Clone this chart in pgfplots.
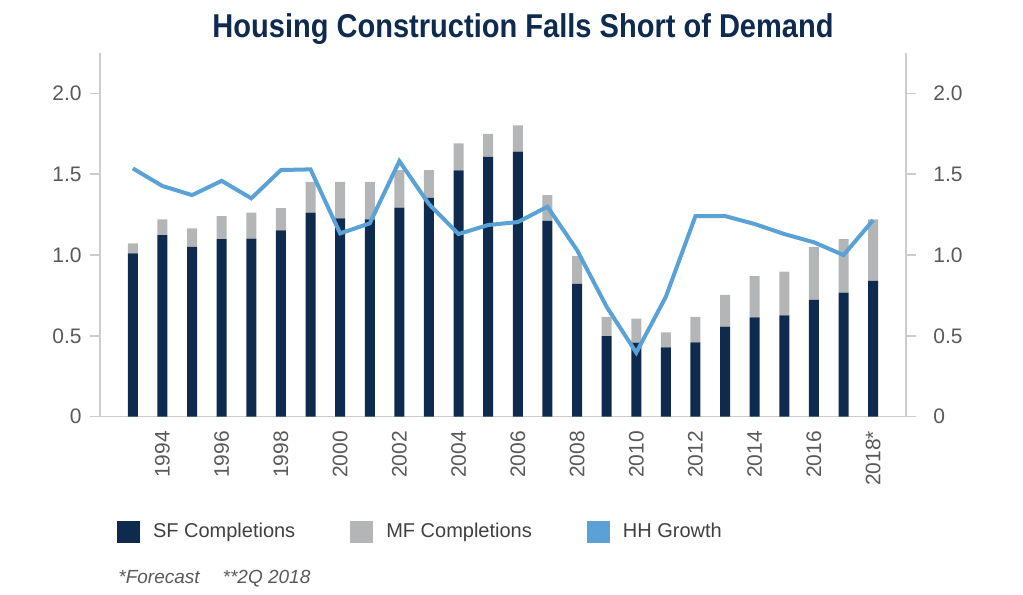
\documentclass[border=0pt]{standalone}
\usepackage{pgfplots}
\pgfplotsset{compat=1.18}
\usepackage{fontspec}
\setmainfont{Liberation Sans}
\newfontfamily\titlefont{Liberation Sans}[FakeStretch=0.88]
\definecolor{sfnavy}{HTML}{0F2A4F}
\definecolor{mfgray}{HTML}{B3B5B7}
\definecolor{hhblue}{HTML}{5AA2D6}
\definecolor{axgray}{HTML}{CCCCCC}
\definecolor{txtgray}{HTML}{595959}
\pgfplotsset{
  sqlegend/.style={legend image code/.code={\fill[##1] (0bp,-5.5bp) rectangle (11.5bp,5.5bp);}},
  common/.style={
    at={(0,0)}, anchor=south west,
    scale only axis, width=403bp, height=181.85bp,
    xmin=1991.89, xmax=2019.11, ymin=0, ymax=2.25,
    axis line style={axgray, line width=0.75bp},
    ytick={0,0.5,1,1.5,2}, yticklabels={0,0.5,1.0,1.5,2.0},
    tick align=outside, major tick length=5bp,
    y tick style={axgray, line width=0.75bp},
    tick label style={font=\fontsize{10.5bp}{12bp}\selectfont, text=txtgray},
  }
}
\begin{document}
\begin{tikzpicture}
\useasboundingbox (-50bp,-89.15bp) rectangle (461.5bp,208.35bp);
\begin{axis}[common,
  ybar stacked, bar width=5bp,
  axis x line*=bottom, axis y line*=left,
  xtick={1994,1996,...,2018},
  xticklabels={1994,1996,1998,2000,2002,2004,2006,2008,2010,2012,2014,2016,2018*},
  x tick style={draw=none},
  xticklabel style={yshift=-2bp, rotate=90, anchor=east, inner sep=0pt},
  yticklabel style={xshift=-4bp, anchor=east, inner sep=0pt},
  legend style={at={(0,0)}, anchor=north west, xshift=8.5bp, yshift=-52.15bp,
    draw=none, fill=none, inner sep=0pt, outer sep=0pt,
    font=\fontsize{10bp}{12bp}\selectfont, text=black!75,
    nodes={inner sep=0pt},
    /tikz/every odd column/.append style={column sep=6.5bp},
    /tikz/every even column/.append style={column sep=27.5bp}},
  legend columns=3, legend cell align=left,
]
\addplot[fill=sfnavy, draw=none, sqlegend] coordinates {
(1993,1.011) (1994,1.124) (1995,1.051) (1996,1.099) (1997,1.101) (1998,1.153)
(1999,1.262) (2000,1.227) (2001,1.221) (2002,1.293) (2003,1.354) (2004,1.524)
(2005,1.608) (2006,1.640) (2007,1.212) (2008,0.821) (2009,0.499) (2010,0.458)
(2011,0.429) (2012,0.460) (2013,0.557) (2014,0.615) (2015,0.627) (2016,0.722)
(2017,0.767) (2018,0.841)};
\addplot[fill=mfgray, draw=none, sqlegend] coordinates {
(1993,0.061) (1994,0.097) (1995,0.114) (1996,0.142) (1997,0.161) (1998,0.138)
(1999,0.191) (2000,0.226) (2001,0.232) (2002,0.233) (2003,0.172) (2004,0.167)
(2005,0.142) (2006,0.162) (2007,0.159) (2008,0.173) (2009,0.119) (2010,0.148)
(2011,0.093) (2012,0.158) (2013,0.196) (2014,0.255) (2015,0.270) (2016,0.329)
(2017,0.332) (2018,0.380)};
\addlegendimage{fill=hhblue, draw=none, sqlegend}
\legend{SF Completions, MF Completions, HH Growth}
\node[xshift=-41bp, rotate=90, font=\fontsize{10.5bp}{12bp}\selectfont, text=txtgray]
  at (rel axis cs:0,0.478) {Unit Completions (millions)};
\node[xshift=47bp, rotate=-90, font=\fontsize{10.5bp}{12bp}\selectfont, text=txtgray]
  at (rel axis cs:1,0.442) {Household Growth (millions)};
\end{axis}
\begin{axis}[common,
  axis x line=none, axis y line*=right,
  yticklabel style={xshift=8.5bp, anchor=west, inner sep=0pt},
]
\addplot[hhblue, line width=2bp, mark=none] coordinates {
(1993,1.536) (1994,1.427) (1995,1.371) (1996,1.459) (1997,1.351) (1998,1.526)
(1999,1.530) (2000,1.134) (2001,1.196) (2002,1.581) (2003,1.315) (2004,1.130)
(2005,1.186) (2006,1.204) (2007,1.299) (2008,1.031) (2009,0.680) (2010,0.396)
(2011,0.742) (2012,1.241) (2013,1.241) (2014,1.192) (2015,1.130) (2016,1.079)
(2017,1.000) (2018,1.216)};
\end{axis}
\node[anchor=base, font=\titlefont\bfseries\fontsize{16.5bp}{18bp}\selectfont, text=sfnavy]
  at (211.5bp,189.35bp) {Housing Construction Falls Short of Demand};
\node[anchor=base west, inner sep=0pt, font=\itshape\fontsize{9.5bp}{11bp}\selectfont, text=txtgray]
  at (9bp,-83.15bp) {*Forecast\hspace{11.5bp}**2Q 2018};
\end{tikzpicture}
\end{document}
